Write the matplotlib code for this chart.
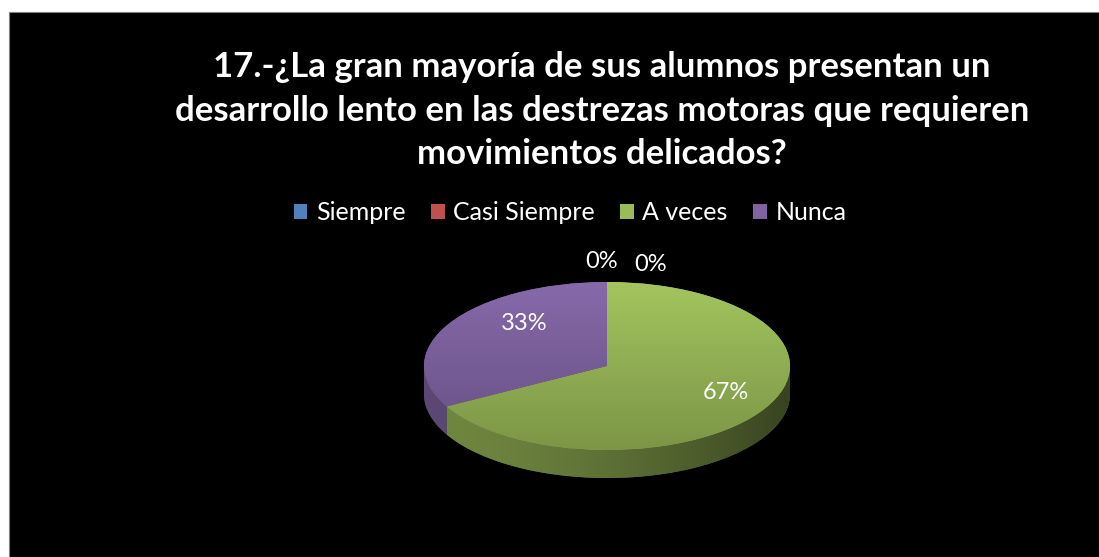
import numpy as np
import matplotlib.pyplot as plt
from matplotlib.patches import Rectangle, Polygon
from matplotlib.colors import LinearSegmentedColormap, to_rgb

# data
categorias = ['Siempre', 'Casi Siempre', 'A veces', 'Nunca']
porcentajes = [0, 0, 67, 33]
colores = ['#4F81BD', '#C0504D', '#9BBB59', '#8064A2']
titulo = ('17.-¿La gran mayoría de sus alumnos presentan un\n'
          'desarrollo lento en las destrezas motoras que requieren\n'
          'movimientos delicados?')

plt.rcParams['font.family'] = ['Lato', 'DejaVu Sans']

W, H = 1099, 557
fig = plt.figure(figsize=(W / 100, H / 100), dpi=100, facecolor='white')

# black chart area
fig.patches.append(Rectangle((9 / W, 0), (W - 9) / W, (H - 12) / H,
                             transform=fig.transFigure, facecolor='black',
                             edgecolor='#808080', linewidth=0.8, zorder=-5))

fig.text(602 / W, 1 - 51 / H, titulo, ha='center', va='top', color='white',
         fontsize=25, fontweight='bold', linespacing=1.45)

# pie axes: center (607,366), rx 183 px, ry 84 px, depth 28 px
cx, cy, rx, ry, depth = 607, 366, 183, 84, 28
left, right, top, bottom = 414, 800, 255, 490
ax = fig.add_axes([left / W, 1 - bottom / H, (right - left) / W, (bottom - top) / H])

wedges, textos, autotextos = ax.pie(porcentajes, colors=colores, startangle=90,
                                    counterclock=False, autopct='%1.0f%%',
                                    pctdistance=0.72,
                                    wedgeprops=dict(linewidth=0, zorder=3),
                                    textprops=dict(color='white', fontsize=17))
ax.set_aspect('auto')
d = depth / ry

# horizontal shading of the side wall (left lighter, right darker)
xs = np.linspace(-1, 1, 300)
sombra = 0.72 - 0.36 * ((xs + 1) / 2) ** 1.6

for w, c in zip(wedges, colores):
    base = np.array(to_rgb(c))
    if w.theta2 - w.theta1 <= 0:
        continue
    # top face with vertical gradient
    cmap = LinearSegmentedColormap.from_list('top', [np.clip(base * 0.8, 0, 1),
                                                      np.clip(base * 1.05, 0, 1)])
    im = ax.imshow(np.linspace(0, 1, 200).reshape(-1, 1), cmap=cmap, origin='lower',
                   extent=(-1, 1, -1, 1), aspect='auto', zorder=4)
    im.set_clip_path(w)

    # side wall on the front half
    a1, a2 = w.theta1 % 360, w.theta2 % 360
    if a2 <= a1:
        a2 += 360
    for k in range(-1, 2):
        lo = max(a1, 180 + 360 * k)
        hi = min(a2, 360 + 360 * k)
        if hi <= lo:
            continue
        ts = np.radians(np.linspace(lo, hi, 200))
        arriba = np.column_stack([np.cos(ts), np.sin(ts)])
        abajo = arriba[::-1] - [0, d]
        pared = Polygon(np.vstack([arriba, abajo]), closed=True,
                        facecolor=base * 0.6, linewidth=0, zorder=2)
        ax.add_patch(pared)
        img = np.array([base * s for s in sombra])[None, :, :]
        sim = ax.imshow(np.clip(img, 0, 1), extent=(-1, 1, -1 - d, 0.2),
                        aspect='auto', zorder=2.5)
        sim.set_clip_path(pared)

ax.set_xlim((left - cx) / rx, (right - cx) / rx)
ax.set_ylim(-(bottom - cy) / ry, (cy - top) / ry)
ax.axis('off')

# label positions like the original
for t in autotextos:
    t.set_zorder(6)
autotextos[0].set_position((-0.03, 1.24))
autotextos[1].set_position((0.24, 1.21))
autotextos[3].set_position((-0.45, 0.51))
autotextos[2].set_position((0.65, -0.32))

fig.legend(wedges, categorias, loc='center', ncol=4,
           bbox_to_anchor=(570 / W, 1 - 213 / H), frameon=False,
           labelcolor='white', fontsize=18, handlelength=0.55, handleheight=0.55,
           handletextpad=0.35, columnspacing=1.0)

fig.savefig('out.png', dpi=100, facecolor='white')
